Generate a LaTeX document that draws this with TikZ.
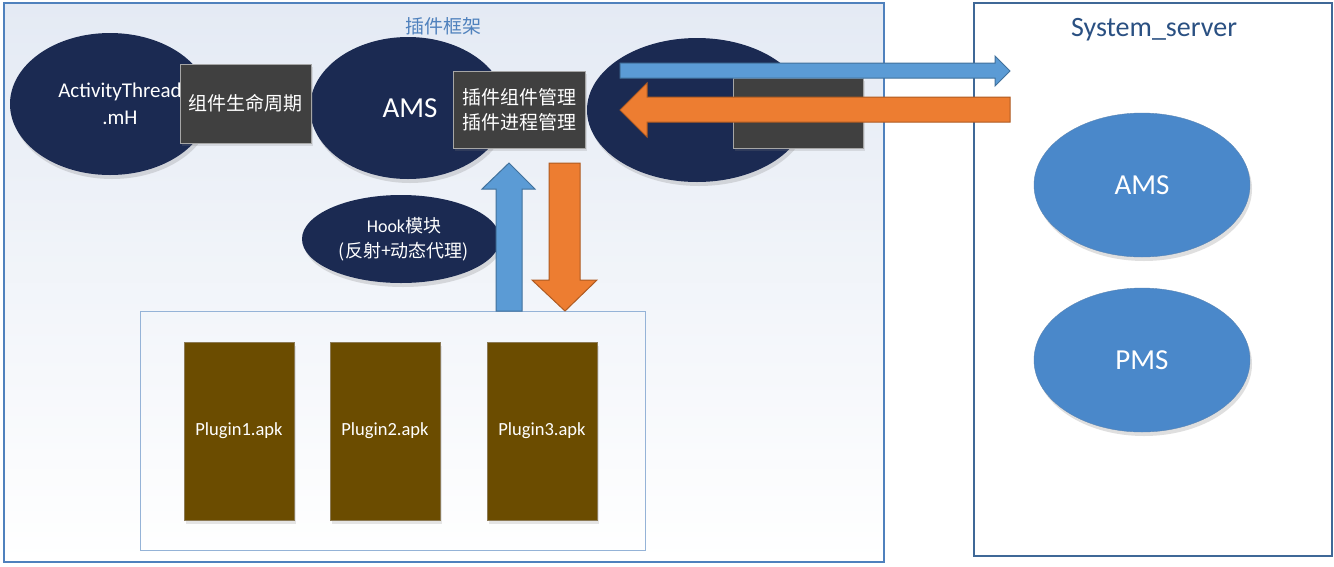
\documentclass[tikz,border=0pt]{standalone}
\usepackage{fontspec}
\setmainfont{Carlito}
\newfontfamily\cjk{Noto Sans CJK SC}
\usetikzlibrary{shapes.geometric,shadows}

\definecolor{navy}{HTML}{1B2A52}
\definecolor{boxgray}{HTML}{404040}
\definecolor{boxedge}{HTML}{A6A6A6}
\definecolor{apkbrown}{HTML}{6B4C00}
\definecolor{apkedge}{HTML}{8C7A55}
\definecolor{ovalblue}{HTML}{4A88CA}
\definecolor{arrowblue}{HTML}{5B9BD5}
\definecolor{arrowblueedge}{HTML}{41719C}
\definecolor{arroworange}{HTML}{ED7D31}
\definecolor{arroworangeedge}{HTML}{AE5A21}
\definecolor{frameedge}{HTML}{4F81BD}
\definecolor{frametop}{HTML}{E4EAF4}
\definecolor{serveredge}{HTML}{3F6897}
\definecolor{servertitle}{HTML}{2A5082}
\definecolor{holderedge}{HTML}{95B3D7}

\begin{document}
\begin{tikzpicture}[
  x=1pt, y=-1pt,
  oval/.style={ellipse, fill=navy, inner sep=0pt, text=white,
    drop shadow={opacity=0.25, shadow xshift=2pt, shadow yshift=-4pt}},
  lightoval/.style={ellipse, fill=ovalblue, draw=ovalblue!70!gray, inner sep=0pt, text=white,
    minimum width=216pt, minimum height=144pt, font=\fontsize{29}{33}\selectfont,
    drop shadow={opacity=0.25, shadow xshift=2pt, shadow yshift=-4pt}},
  graybox/.style={rectangle, fill=boxgray, draw=boxedge, line width=1pt, text=white,
    inner sep=0pt, align=center, font=\cjk\fontsize{19}{25}\selectfont,
    drop shadow={opacity=0.2, shadow xshift=2pt, shadow yshift=-3pt}},
  apk/.style={rectangle, fill=apkbrown, draw=apkedge, minimum width=110pt, minimum height=178pt,
    text=white, font=\fontsize{18.5}{22}\selectfont,
    drop shadow={opacity=0.2, shadow xshift=2pt, shadow yshift=-4pt}},
  bluearrow/.style={fill=arrowblue, draw=arrowblueedge, line width=1pt},
  orangearrow/.style={fill=arroworange, draw=arroworangeedge, line width=1pt},
]
  \useasboundingbox (0,0) rectangle (1334,566);

  % Frames
  \draw[frameedge, line width=1.2pt, top color=frametop, bottom color=white] (4,3) rectangle (884,562);
  \node[text=frameedge, font=\cjk\fontsize{19}{24}\selectfont] (frametitle) at (443,26) {插件框架};
  \draw[serveredge, line width=1.2pt, fill=white] (974,3) rectangle (1332,556);
  \node[text=servertitle, font=\fontsize{28}{32}\selectfont] (servertitle) at (1154,30) {System\_server};

  % Plugin holder
  \draw[holderedge, line width=1pt] (140,311) rectangle (645,550);

  % Ovals of the framework
  \node[oval, minimum width=200pt, minimum height=142pt] (thread) at (110,104) {};
  \node[text=white, align=center, font=\fontsize{21}{27}\selectfont] (threadtext) at (120,104)
    {ActivityThread\\.mH};
  \node[oval, minimum width=196pt, minimum height=142pt, font=\fontsize{29}{33}\selectfont]
    (ams) at (408,108) {\hspace*{4pt}AMS};
  \node[oval, minimum width=220pt, minimum height=144pt] (proxy) at (697,110) {};
  \node[oval, minimum width=198pt, minimum height=88pt, align=center,
    font=\fontsize{18}{25}\selectfont] (hook) at (401,239)
    {\hspace*{6pt}Hook{\cjk 模块}\\\hspace*{6pt}{\cjk (反射+动态代理)}};

  % Gray boxes
  \node[graybox, minimum width=131pt, minimum height=79pt] (life) at (245.5,103.5) {组件生命周期};
  \node[graybox, minimum width=132pt, minimum height=77pt] (mgr) at (519,109.5) {插件组件管理\\插件进程管理};
  \node[graybox, minimum width=130pt, minimum height=70pt] (stub) at (798,113) {};

  % Plugins
  \node[apk] (apk1) at (239,431) {Plugin1.apk};
  \node[apk] (apk2) at (385,431) {Plugin2.apk};
  \node[apk] (apk3) at (542,431) {Plugin3.apk};

  % System_server
  \node[lightoval] (sams) at (1142,185) {AMS};
  \node[lightoval] (spms) at (1142,360) {PMS};

  % Block arrows
  \filldraw[bluearrow] (620,63) -- (995,63) -- (995,56) -- (1010,71) -- (995,86) -- (995,78) -- (620,78) -- cycle;
  \filldraw[orangearrow] (1010,97) -- (647,97) -- (647,83) -- (620,110) -- (647,137) -- (647,122) -- (1010,122) -- cycle;
  \filldraw[bluearrow] (496,311) -- (496,189) -- (482,189) -- (509,163) -- (535,189) -- (522,189) -- (522,311) -- cycle;
  \filldraw[orangearrow] (549,163) -- (580,163) -- (580,280) -- (597,280) -- (565,311) -- (532,280) -- (549,280) -- cycle;
\end{tikzpicture}
\end{document}
